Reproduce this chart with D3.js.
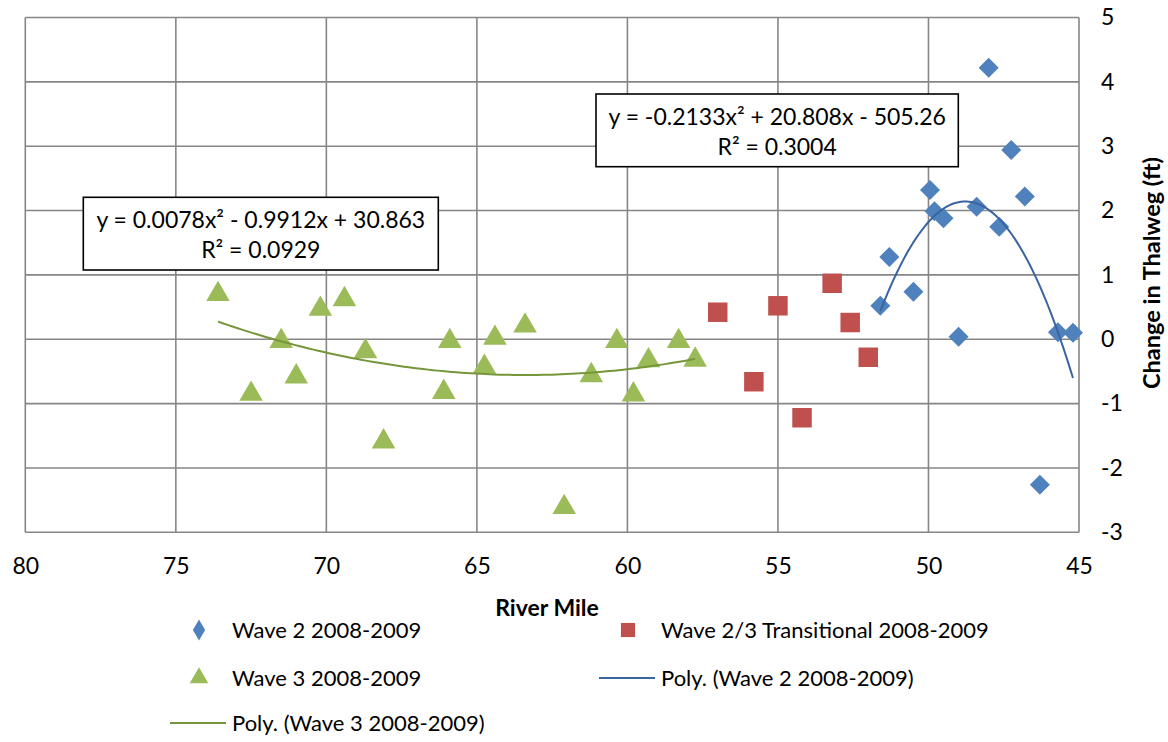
<!DOCTYPE html>
<html><head><meta charset="utf-8">
<script src="https://cdn.jsdelivr.net/npm/d3@7"></script>
<style>html,body{margin:0;padding:0;background:#fff;}svg{display:block;font-family:Lato,"Open Sans",sans-serif;}</style>
</head><body>
<svg id="c" width="1168" height="742"></svg>
<script>
// ---- data ----
const wave2X = [51.6, 50.5, 49.0, 46.3, 45.7, 45.2, 51.3, 49.95, 49.8, 49.5, 48.4, 48.0, 47.65, 47.25, 46.8];
const wave2Y = [0.52, 0.74, 0.04, -2.26, 0.11, 0.10, 1.28, 2.32, 1.99, 1.88, 2.06, 4.22, 1.75, 2.94, 2.22];
const transX = [57.0, 55.8, 55.0, 54.2, 53.2, 52.6, 52.0];
const transY = [0.42, -0.66, 0.52, -1.22, 0.87, 0.26, -0.28];
const wave3X = [73.6, 72.5, 71.5, 71.0, 70.2, 69.4, 68.7, 68.1, 66.1, 65.9, 64.75, 64.4, 63.4, 62.1, 61.2, 60.35, 59.8, 59.3, 58.3, 57.75];
const wave3Y = [0.73, -0.82, 0.0, -0.55, 0.5, 0.65, -0.16, -1.56, -0.79, 0.0, -0.4, 0.05, 0.24, -2.58, -0.53, 0.0, -0.83, -0.3, 0.0, -0.29];
const xTicks = [80, 75, 70, 65, 60, 55, 50, 45];
const yTicks = [5, 4, 3, 2, 1, 0, -1, -2, -3];
const seriesNames = ["Wave 2 2008-2009", "Wave 2/3 Transitional 2008-2009", "Wave 3 2008-2009", "Poly. (Wave 2 2008-2009)", "Poly. (Wave 3 2008-2009)"];
const eq3Lines = ["y = 0.0078x² - 0.9912x + 30.863", "R² = 0.0929"];
const eq2Lines = ["y = -0.2133x² + 20.808x - 505.26", "R² = 0.3004"];

const C = {blue:"#4F81BD", red:"#C0504D", green:"#9BBB59", blueLine:"#3A64A0", greenLine:"#76963A", grid:"#868686"};

const svg = d3.select("#c");
const L = 25.3, R = 1079, T = 17.5, B = 532.3;
const x = d3.scaleLinear().domain([80, 45]).range([L, R]);
const y = d3.scaleLinear().domain([-3, 5]).range([B, T]);

// grid
const g = svg.append("g");
g.selectAll("line.v").data(xTicks).join("line")
  .attr("x1", d => x(d)).attr("x2", d => x(d)).attr("y1", T).attr("y2", B)
  .attr("stroke", C.grid).attr("stroke-width", 1.6);
g.selectAll("line.h").data(yTicks).join("line")
  .attr("x1", L).attr("x2", R).attr("y1", d => y(d)).attr("y2", d => y(d))
  .attr("stroke", C.grid).attr("stroke-width", 1.6);

// axes labels
const fmt = d => String(d);
const xAxis = d3.axisBottom(x).tickValues(xTicks).tickFormat(fmt).tickSize(0).tickPadding(25);
const xa = svg.append("g").attr("transform", `translate(0,${B})`).call(xAxis);
xa.select(".domain").remove();
xa.selectAll("text").attr("font-size", 23).attr("font-family", "Lato, sans-serif").attr("fill", "#000");
const yAxis = d3.axisRight(y).tickValues(yTicks).tickFormat(fmt).tickSize(0).tickPadding(22);
const ya = svg.append("g").attr("transform", `translate(${R},0)`).call(yAxis);
ya.select(".domain").remove();
ya.selectAll("text").attr("font-size", 23).attr("font-family", "Lato, sans-serif").attr("fill", "#000").attr("text-anchor", "start");

svg.append("text").attr("x", 547).attr("y", 616).attr("text-anchor", "middle")
  .attr("font-size", 23).attr("font-weight", "bold").text("River Mile");
svg.append("text").attr("transform", "translate(1160,273) rotate(-90)").attr("text-anchor", "middle")
  .attr("font-size", 23.5).attr("font-weight", "bold").text("Change in Thalweg (ft)");

// least squares quadratic fit (Excel polynomial trendline)
function polyfit(xs, ys) {
  const n = xs.length; let s = [0,0,0,0,0], t = [0,0,0];
  for (let i = 0; i < n; i++) { let p = 1; for (let k = 0; k < 5; k++) { s[k] += p; if (k < 3) t[k] += p * ys[i]; p *= xs[i]; } }
  const A = [[s[0],s[1],s[2],t[0]],[s[1],s[2],s[3],t[1]],[s[2],s[3],s[4],t[2]]];
  for (let i = 0; i < 3; i++) { for (let j = i+1; j < 3; j++) { const f = A[j][i]/A[i][i]; for (let k = i; k < 4; k++) A[j][k] -= f*A[i][k]; } }
  const c = [0,0,0];
  for (let i = 2; i >= 0; i--) { let v = A[i][3]; for (let k = i+1; k < 3; k++) v -= A[i][k]*c[k]; c[i] = v / A[i][i]; }
  return xv => c[0] + c[1]*xv + c[2]*xv*xv;
}
function trend(xs, ys, color) {
  const f = polyfit(xs, ys);
  const [a, b] = d3.extent(xs);
  const pts = d3.range(0, 101).map(i => { const xv = a + (b - a) * i / 100; return [xv, f(xv)]; });
  svg.append("path").datum(pts).attr("fill", "none").attr("stroke", color).attr("stroke-width", 2)
    .attr("d", d3.line().x(d => x(d[0])).y(d => y(d[1])));
}

// markers
const sym = {
  diamond: d3.symbol().type(d3.symbolSquare).size(200),
  square: d3.symbol().type(d3.symbolSquare).size(380),
  triangle: d3.symbol().type(d3.symbolTriangle).size(240)
};
function pts(xs, ys, kind, color) {
  const data = xs.map((v, i) => [v, ys[i]]);
  svg.append("g").selectAll("path").data(data).join("path")
    .attr("d", sym[kind]).attr("fill", color)
    .attr("transform", d => `translate(${x(d[0])},${y(d[1]) + (kind === "triangle" ? 2 : 0)})` + (kind === "diamond" ? " rotate(45)" : ""));
}
pts(wave3X, wave3Y, "triangle", C.green);
pts(transX, transY, "square", C.red);
pts(wave2X, wave2Y, "diamond", C.blue);
trend(wave3X, wave3Y, C.greenLine);
trend(wave2X, wave2Y, C.blueLine);

// equation boxes
function eqBox(x0, y0, w, h, lines) {
  const gb = svg.append("g");
  gb.append("rect").attr("x", x0).attr("y", y0).attr("width", w).attr("height", h)
    .attr("fill", "#fff").attr("stroke", "#000").attr("stroke-width", 1.6);
  lines.forEach((t, i) => gb.append("text").attr("x", x0 + w/2).attr("y", y0 + 31 + i*30)
    .attr("text-anchor", "middle").attr("font-size", 23).text(t));
}
eqBox(83.3, 197.3, 355, 72.7, eq3Lines);
eqBox(596, 94, 362.3, 72.7, eq2Lines);

// legend
const lg = svg.append("g").attr("font-size", 22);
const items = [
  {k:"diamond", c:C.blue, x:199, y:630, n:seriesNames[0]},
  {k:"square", c:C.red, x:628, y:630, n:seriesNames[1]},
  {k:"triangle", c:C.green, x:199, y:678, n:seriesNames[2]},
  {k:"line", c:C.blueLine, x:628, y:678, n:seriesNames[3]},
  {k:"line", c:C.greenLine, x:199, y:723, n:seriesNames[4]}
];
items.forEach(it => {
  if (it.k === "line") {
    lg.append("line").attr("x1", it.x - 29).attr("x2", it.x + 27).attr("y1", it.y).attr("y2", it.y)
      .attr("stroke", it.c).attr("stroke-width", 2);
  } else {
    const s = it.k === "diamond" ? d3.symbol().type(d3.symbolDiamond).size(130)
      : it.k === "square" ? d3.symbol().type(d3.symbolSquare).size(200)
      : d3.symbol().type(d3.symbolTriangle).size(150);
    lg.append("path").attr("d", s).attr("fill", it.c).attr("transform", `translate(${it.x},${it.y})`);
  }
  lg.append("text").attr("x", it.x + 33).attr("y", it.y + 8).text(it.n);
});
</script>
</body></html>
